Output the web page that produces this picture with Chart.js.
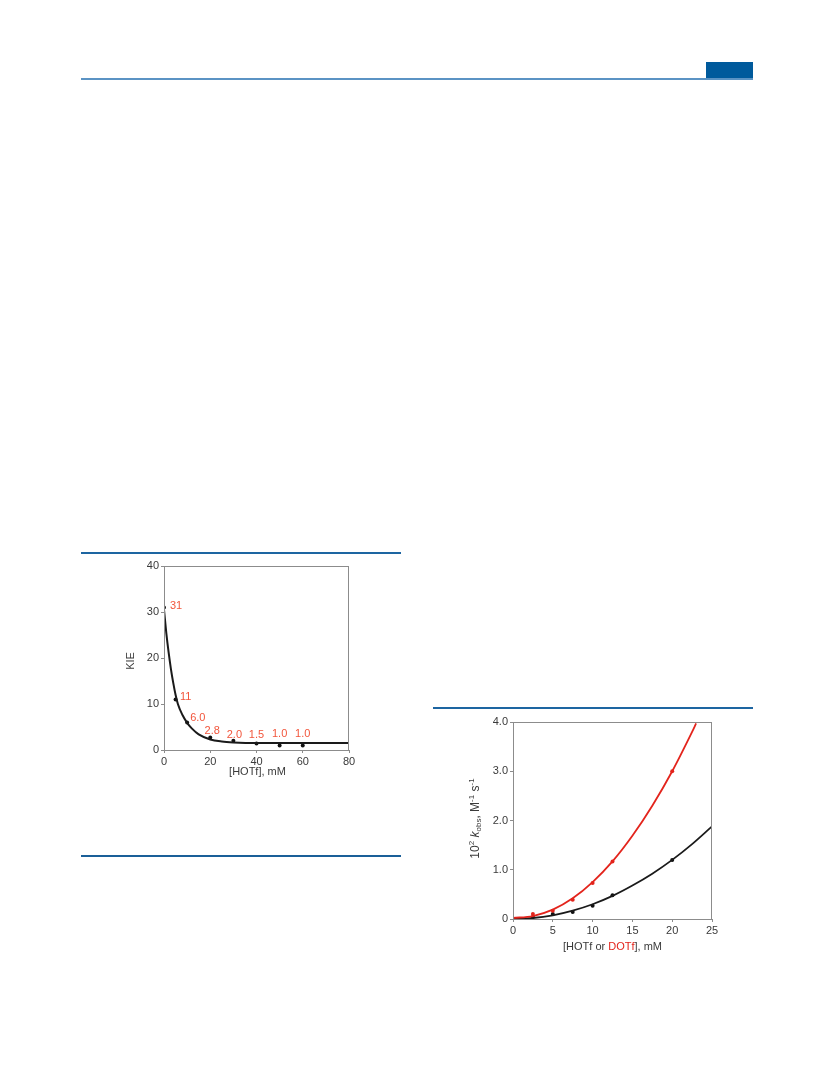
<!DOCTYPE html>
<html>
<head>
<meta charset="utf-8">
<script src="https://cdn.jsdelivr.net/npm/chart.js@4.4.1/dist/chart.umd.min.js"></script>
<style>
  html, body { margin: 0; padding: 0; background: #fff; }
  body { width: 833px; height: 1091px; position: relative; overflow: hidden; }
  .rule { position: absolute; background: #1d65a1; }
  .box { position: absolute; background: #005a9c; }
  canvas { position: absolute; }
</style>
</head>
<body>
<div class="rule" style="left:81px; top:77.5px; width:672px; height:2px; background:#5b93c4;"></div>
<div class="box" style="left:706px; top:62px; width:47px; height:16px;"></div>
<div class="rule" style="left:81px; top:552px; width:320px; height:2px;"></div>
<div class="rule" style="left:433px; top:706.5px; width:320px; height:2px;"></div>
<div class="rule" style="left:81px; top:854.5px; width:320px; height:2px; background:#1a5f98;"></div>

<div id="c1" style="position:absolute; left:110px; top:550px; width:250px; height:240px;"><canvas id="kie"></canvas></div>
<div id="c2" style="position:absolute; left:440px; top:708px; width:285px; height:255px;"><canvas id="kobs"></canvas></div>

<script>
// KIE vs [HOTf]
const kieX = [0, 5, 10, 20, 30, 40, 50, 60];
const kieY = [31, 11, 6.0, 2.7, 2.0, 1.4, 1.0, 1.0];
const kieLabels = ["31", "11", "6.0", "2.8", "2.0", "1.5", "1.0", "1.0"];
const kieFitX = [0, 1, 2, 3, 4, 5, 6, 8, 10, 12, 15, 20, 25, 30, 40, 60, 80];
const kieFitY = [30.5, 25.4, 21.2, 17.6, 14.6, 12.0, 10.0, 7.6, 5.9, 4.7, 3.4, 2.3, 1.85, 1.65, 1.5, 1.5, 1.5];

// k_obs vs [HOTf or DOTf]
const acidX = [2.5, 5, 7.5, 10, 12.5, 20];
const hotfY = [0.04, 0.1, 0.14, 0.27, 0.48, 1.2];
const dotfY = [0.1, 0.17, 0.39, 0.73, 1.17, 3.0];
const hotfFitX = [0, 2.5, 5, 7.5, 10, 12.5, 15, 17.5, 20, 22.5, 25];
const hotfFitY = [0, 0.02, 0.075, 0.17, 0.3, 0.47, 0.68, 0.92, 1.2, 1.52, 1.88];
const dotfFitX = [0, 2.5, 5, 7.5, 10, 12.5, 15, 17.5, 20, 22.5, 23];
const dotfFitY = [0.02, 0.06, 0.19, 0.42, 0.75, 1.17, 1.69, 2.3, 3.0, 3.8, 3.97];
const kobsTicks = ["0", "1.0", "2.0", "3.0", "4.0"];

const RED = "#e3241c";
const LABEL_RED = "#f2553b";
const AXIS = "#8c8c8c";
const TEXT = "#3a3a3a";
const FONT = "Liberation Sans, Arial, sans-serif";

// label offsets (dx, dy, align) for the KIE value labels
const kieLabelPos = [[6, -1, "left"], [4.5, -2, "left"], [3, -4, "left"], [2, -7, "center"],
  [1, -6, "center"], [0, -9, "center"], [0, -11, "center"], [0, -11, "center"]];

const pts = (xs, ys) => xs.map((x, i) => ({ x: x, y: ys[i] }));

function axisOpts(min, max, step, cb) {
  return {
    type: "linear", min: min, max: max,
    ticks: { stepSize: step, color: TEXT, font: { family: FONT, size: 11 }, padding: 2, callback: cb },
    grid: { display: true, drawOnChartArea: false, drawTicks: true, tickLength: 3, color: AXIS },
    border: { display: false }
  };
}

// draws the frame, axis titles and value labels
const decor = {
  id: "decor",
  afterDraw(chart, args, o) {
    const ctx = chart.ctx, a = chart.chartArea;
    ctx.save();
    ctx.strokeStyle = AXIS;
    ctx.lineWidth = 1;
    ctx.strokeRect(Math.round(a.left) + 0.5, Math.round(a.top) + 0.5,
      Math.round(a.right - a.left) - 1, Math.round(a.bottom - a.top));
    ctx.fillStyle = TEXT;
    ctx.textBaseline = "middle";
    if (o.kind === "kie") {
      ctx.font = "11px " + FONT;
      ctx.textAlign = "center";
      ctx.fillText("[HOTf], mM", (a.left + a.right) / 2 + 1, a.bottom + 22);
      ctx.save();
      ctx.translate(a.left - 33, (a.top + a.bottom) / 2 + 3);
      ctx.rotate(-Math.PI / 2);
      ctx.fillText("KIE", 0, 0);
      ctx.restore();
      const meta = chart.getDatasetMeta(1);
      ctx.fillStyle = LABEL_RED;
      meta.data.forEach((p, i) => {
        const lp = kieLabelPos[i];
        ctx.textAlign = lp[2];
        ctx.fillText(kieLabels[i], p.x + lp[0], p.y + lp[1]);
      });
    } else {
      // x title with coloured part
      ctx.font = "11px " + FONT;
      ctx.textAlign = "left";
      const parts = [["[HOTf or ", TEXT], ["DOTf", RED], ["], mM", TEXT]];
      const w = parts.reduce((s, p) => s + ctx.measureText(p[0]).width, 0);
      let x = (a.left + a.right) / 2 - w / 2;
      parts.forEach(p => { ctx.fillStyle = p[1]; ctx.fillText(p[0], x, a.bottom + 28); x += ctx.measureText(p[0]).width; });
      // y title: 10^2 k_obs, M^-1 s^-1
      ctx.save();
      ctx.translate(a.left - 37, (a.top + a.bottom) / 2 - 2);
      ctx.rotate(-Math.PI / 2);
      const runs = [
        ["10", "12px " + FONT, 0], ["2", "8px " + FONT, -4], [" ", "12px " + FONT, 0],
        ["k", "italic 12px " + FONT, 0], ["obs", "8px " + FONT, 3], [", M", "12px " + FONT, 0],
        ["-1", "8px " + FONT, -4], [" s", "12px " + FONT, 0], ["-1", "8px " + FONT, -4]
      ];
      let tw = 0;
      runs.forEach(r => { ctx.font = r[1]; tw += ctx.measureText(r[0]).width; });
      let rx = -tw / 2;
      ctx.fillStyle = TEXT;
      runs.forEach(r => { ctx.font = r[1]; ctx.fillText(r[0], rx, r[2]); rx += ctx.measureText(r[0]).width; });
      ctx.restore();
    }
    ctx.restore();
  }
};

new Chart(document.getElementById("kie"), {
  type: "scatter",
  data: {
    datasets: [
      { data: pts(kieFitX, kieFitY), showLine: true, borderColor: "#1a1a1a", borderWidth: 2,
        pointRadius: 0, cubicInterpolationMode: "monotone", fill: false },
      { data: pts(kieX, kieY), pointRadius: 2, pointBackgroundColor: "#111", pointBorderWidth: 0, showLine: false }
    ]
  },
  options: {
    responsive: true, maintainAspectRatio: false, animation: false,
    layout: { padding: { top: 16, right: 11, left: 0, bottom: 0 } },
    plugins: { legend: { display: false }, tooltip: { enabled: false }, decor: { kind: "kie" } },
    scales: {
      x: Object.assign(axisOpts(0, 80, 20), { afterFit: s => { s.height = 40; } }),
      y: Object.assign(axisOpts(0, 40, 10), { afterFit: s => { s.width = 54; } })
    }
  },
  plugins: [decor]
});

new Chart(document.getElementById("kobs"), {
  type: "scatter",
  data: {
    datasets: [
      { data: pts(dotfFitX, dotfFitY), showLine: true, borderColor: RED, borderWidth: 1.8,
        pointRadius: 0, cubicInterpolationMode: "monotone", fill: false },
      { data: pts(hotfFitX, hotfFitY), showLine: true, borderColor: "#1a1a1a", borderWidth: 1.8,
        pointRadius: 0, cubicInterpolationMode: "monotone", fill: false },
      { data: pts(acidX, dotfY), pointRadius: 2, pointBackgroundColor: RED, pointBorderWidth: 0 },
      { data: pts(acidX, hotfY), pointRadius: 2, pointBackgroundColor: "#111", pointBorderWidth: 0 }
    ]
  },
  options: {
    responsive: true, maintainAspectRatio: false, animation: false,
    layout: { padding: { top: 14, right: 13, left: 0, bottom: 0 } },
    plugins: { legend: { display: false }, tooltip: { enabled: false }, decor: { kind: "kobs" } },
    scales: {
      x: Object.assign(axisOpts(0, 25, 5), { afterFit: s => { s.height = 44; } }),
      y: Object.assign(axisOpts(0, 4, 1, (v, i) => kobsTicks[i]), { afterFit: s => { s.width = 73; } })
    }
  },
  plugins: [decor]
});
</script>
</body>
</html>
